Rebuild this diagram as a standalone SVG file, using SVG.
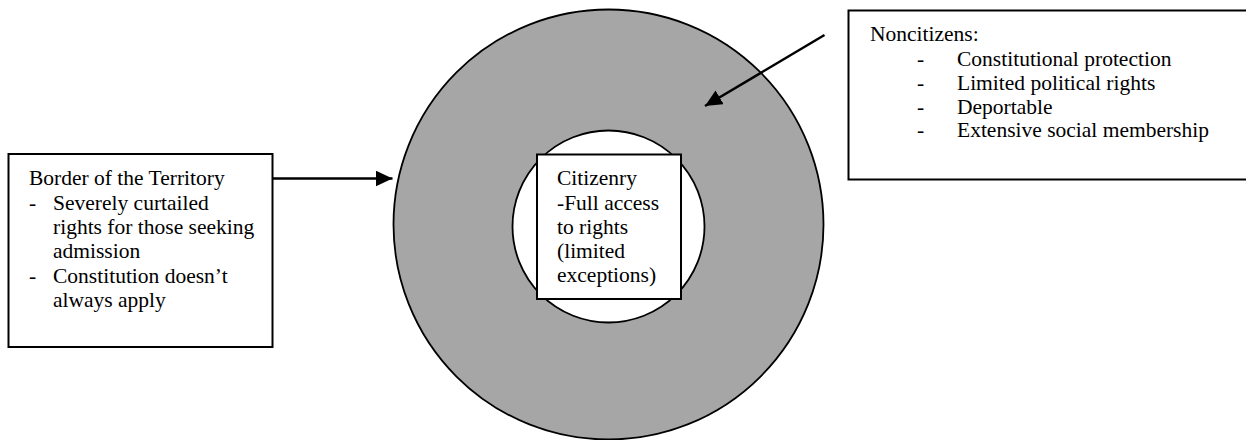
<svg xmlns="http://www.w3.org/2000/svg" width="1246" height="440" viewBox="0 0 1246 440">
<style>
text { font-family: "Liberation Serif", "Times New Roman", serif; font-size: 21.5px; fill: #000; }
.box { fill: #fff; stroke: #000; stroke-width: 2; }
.conn { stroke: #000; stroke-width: 2.5; fill: none; }
</style>
<defs>
<marker id="arrow" markerUnits="userSpaceOnUse" markerWidth="18" markerHeight="16" refX="17" refY="8" orient="auto">
<path d="M0,0 L17,8 L0,16 Z" fill="#000"/>
</marker>
</defs>
<rect width="1246" height="440" fill="#fff"/>
<g id="territory">
<circle cx="608.5" cy="224.5" r="215" fill="#a6a6a6" stroke="#000" stroke-width="1.8"/>
</g>
<g id="citizenry-circle">
<circle cx="608.5" cy="226.5" r="96" fill="#fff" stroke="#000" stroke-width="1.8"/>
</g>
<g id="citizenry">
<rect class="box" x="537" y="154.5" width="144" height="144.5"/>
<text x="557" y="185">Citizenry</text>
<text x="557" y="210">-Full access</text>
<text x="557" y="234">to rights</text>
<text x="557" y="258">(limited</text>
<text x="557" y="282">exceptions)</text>
</g>
<g id="border">
<rect class="box" x="8.5" y="154" width="264" height="193"/>
<text x="29" y="185">Border of the Territory</text>
<text x="29" y="210">-</text><text x="53" y="210">Severely curtailed</text>
<text x="53" y="234">rights for those seeking</text>
<text x="53" y="258">admission</text>
<text x="29" y="283">-</text><text x="53" y="283">Constitution doesn’t</text>
<text x="53" y="307">always apply</text>
</g>
<g id="noncitizens">
<rect class="box" x="848.5" y="10.5" width="402" height="169"/>
<text x="870" y="40.5">Noncitizens:</text>
<text x="917" y="66">-</text><text x="957" y="66">Constitutional protection</text>
<text x="917" y="90">-</text><text x="957" y="90">Limited political rights</text>
<text x="917" y="113.5">-</text><text x="957" y="113.5">Deportable</text>
<text x="917" y="137">-</text><text x="957" y="137">Extensive social membership</text>
</g>
<g id="connectors">
<line class="conn" x1="273" y1="178.5" x2="392.5" y2="178.5" marker-end="url(#arrow)"/>
<line class="conn" x1="824.5" y1="35" x2="705" y2="106" marker-end="url(#arrow)"/>
</g>
</svg>
